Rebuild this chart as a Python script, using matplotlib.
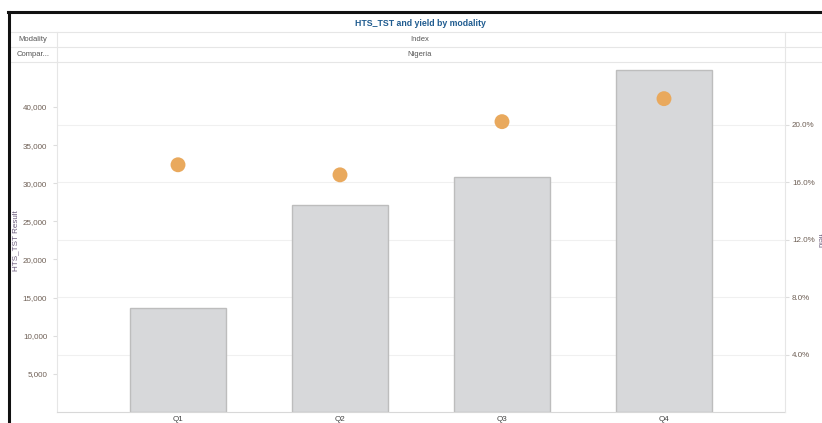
import matplotlib
matplotlib.use("Agg")
import matplotlib.pyplot as plt
from matplotlib.ticker import FuncFormatter, FixedLocator

quarters = ["Q1", "Q2", "Q3", "Q4"]
hts_tst = [13700, 27100, 30800, 44800]
yield_pct = [17.2, 16.5, 20.2, 21.8]

left_ticks = [5000, 10000, 15000, 20000, 25000, 30000, 35000, 40000]
right_ticks = [4, 8, 12, 16, 20]

W, H = 822, 423
fig = plt.figure(figsize=(W / 100, H / 100), dpi=100)
plt.rcParams['font.family'] = ['Liberation Sans', 'DejaVu Sans']

def fx(x):
    return x / W

def fy(y):
    return 1 - y / H

tick_col = "#6e5f55"
line_col = "#e6e6e6"
fs = 5.8

# plot area (pixels): x 57..785, y 62..412
rect = [fx(57), fy(412), fx(785 - 57), (412 - 62) / H]
x = list(range(len(quarters)))

# grid layer (behind the bars), uses the yield scale
axg = fig.add_axes(rect)
axg.set_xlim(-0.747, 3.747)
axg.set_ylim(0, 24.35)
axg.yaxis.set_major_locator(FixedLocator(right_ticks))
axg.grid(axis="y", color="#f0f0f0", linewidth=0.8)
axg.set_xticks([])
axg.tick_params(axis="y", left=False, labelleft=False)
for s in axg.spines.values():
    s.set_visible(False)

# bars
ax = fig.add_axes(rect)
ax.patch.set_visible(False)
ax.bar(x, hts_tst, width=0.595, color="#d7d8da", edgecolor="#bdbdbd", linewidth=1, zorder=2)
ax.set_xlim(-0.747, 3.747)
ax.set_ylim(0, 45900)
ax.set_xticks(x)
ax.set_xticklabels(quarters, fontsize=fs, color="#444444")
ax.tick_params(axis="x", length=0, pad=3)
ax.yaxis.set_major_locator(FixedLocator(left_ticks))
ax.yaxis.set_major_formatter(FuncFormatter(lambda v, p: f"{int(v):,}"))
ax.tick_params(axis="y", labelsize=fs, labelcolor=tick_col, length=3, color="#dddddd", pad=4)
ax.set_ylabel("HTS_TST Result", fontsize=fs, color="#6a5a7a")
ax.yaxis.set_label_coords(-(57 - 19) / 728, 0.49)
for s in ["top", "right"]:
    ax.spines[s].set_visible(False)
ax.spines["left"].set_color(line_col)
ax.spines["bottom"].set_color("#d8d8d8")

# yield dots
ax2 = ax.twinx()
ax2.scatter(x, yield_pct, s=115, color="#e9a95d", edgecolor="none", zorder=5)
ax2.set_ylim(0, 24.35)
ax2.yaxis.set_major_locator(FixedLocator(right_ticks))
ax2.yaxis.set_major_formatter(FuncFormatter(lambda v, p: f"{v:.1f}%"))
ax2.tick_params(axis="y", labelsize=fs, labelcolor=tick_col, length=3, color="#dddddd", pad=2)
for s in ["top", "left", "bottom"]:
    ax2.spines[s].set_visible(False)
ax2.spines["right"].set_color(line_col)

# header rows
for yy in [32, 47, 62]:
    fig.add_artist(plt.Line2D([fx(10), fx(822)], [fy(yy), fy(yy)], color=line_col, lw=0.8))
fig.add_artist(plt.Line2D([fx(57), fx(57)], [fy(32), fy(62)], color=line_col, lw=0.8))
fig.add_artist(plt.Line2D([fx(785), fx(785)], [fy(32), fy(62)], color=line_col, lw=0.8))

fig.text(fx(420), fy(24), "HTS_TST and yield by modality", ha="center", va="center",
         fontsize=6.3, fontweight="bold", color="#1f5b8f")
fig.text(fx(33), fy(39.5), "Modality", ha="center", va="center", fontsize=5.5, color="#555555")
fig.text(fx(33), fy(54.5), "Compar...", ha="center", va="center", fontsize=5.5, color="#555555")
fig.text(fx(420), fy(39.5), "Index", ha="center", va="center", fontsize=5.5, color="#555555")
fig.text(fx(420), fy(54.5), "Nigeria", ha="center", va="center", fontsize=5.5, color="#555555")
fig.text(fx(819.5), fy(240), "Yield", ha="center", va="center", rotation=-90,
         fontsize=5.3, color="#6a5a7a")

# outer frame
fig.add_artist(plt.Line2D([fx(8), fx(822)], [fy(12), fy(12)], color="#111111", lw=2.2))
fig.add_artist(plt.Line2D([fx(9), fx(9)], [fy(12), fy(423)], color="#111111", lw=2.2))

fig.savefig("out.png", dpi=100)
